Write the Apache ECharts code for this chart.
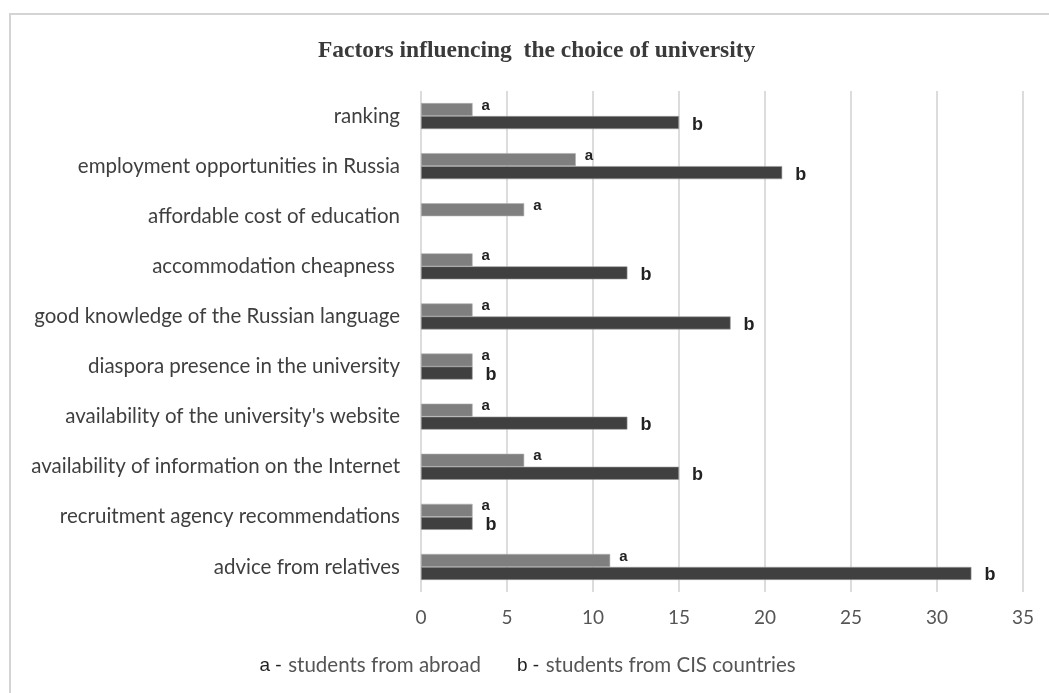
<!DOCTYPE html>
<html>
<head>
<meta charset="utf-8">
<script src="https://cdn.jsdelivr.net/npm/echarts@6/dist/echarts.min.js"></script>
<style>
  html, body { margin: 0; padding: 0; background: #ffffff; }
  #frame { position: absolute; left: 9px; top: 13px; width: 1040px; height: 680px;
           border-left: 2px solid #d4d4d4; border-top: 2px solid #d4d4d4; box-sizing: border-box; }
  #chart { width: 1049px; height: 693px; position: absolute; left: 0; top: 0; }
</style>
</head>
<body>
<div id="frame"></div>
<div id="chart"></div>
<script>
// Factors listed top to bottom
const factors = [
  'ranking',
  'employment opportunities in Russia',
  'affordable cost of education',
  'accommodation cheapness ',
  'good knowledge of the Russian language',
  'diaspora presence in the university',
  "availability of the university's website",
  'availability of information on the Internet',
  'recruitment agency recommendations',
  'advice from relatives'
];
// a - students from abroad
const abroad = [3, 9, 6, 3, 3, 3, 3, 6, 3, 11];
// b - students from CIS countries (no answer for affordable cost)
const cis = [15, 21, null, 12, 18, 3, 12, 15, 3, 32];
const valueTicks = [0, 5, 10, 15, 20, 25, 30, 35];

const labelFont = 'Liberation Sans, Arial, sans-serif';
const textFont = 'Lato, "Open Sans", sans-serif';

const chart = echarts.init(document.getElementById('chart'), null, { renderer: 'canvas' });
chart.setOption({
  animation: false,
  title: {
    text: 'Factors influencing  the choice of university',
    left: 313, top: 34,
    textStyle: { fontFamily: 'Liberation Serif, Times New Roman, serif', fontWeight: 'bold', fontSize: 23.5, color: '#3a3a3a' }
  },
  grid: { left: 421, right: 26, top: 91, bottom: 101, containLabel: false },
  xAxis: {
    type: 'value', min: valueTicks[0], max: valueTicks[valueTicks.length - 1], interval: 5,
    axisLine: { show: false }, axisTick: { show: false },
    splitLine: { show: true, lineStyle: { color: '#d0d0d0', width: 1.5 } },
    axisLabel: { fontFamily: textFont, fontSize: 19, color: '#555555', margin: 16 }
  },
  yAxis: {
    type: 'category', data: factors, inverse: true,
    axisLine: { show: false }, axisTick: { show: false }, splitLine: { show: false },
    axisLabel: { fontFamily: textFont, fontSize: 20.5, color: '#3f3f3f', margin: 21 }
  },
  legend: {
    bottom: 12, left: 'center', itemWidth: 0, itemHeight: 0, itemGap: 30,
    icon: 'rect', selectedMode: false,
    data: ['a', 'b'],
    formatter: function (name) {
      return '{k|' + name + ' -}  {t|' + (name === 'a' ? 'students from abroad' : 'students from CIS countries') + '}';
    },
    textStyle: {
      rich: {
        k: { fontFamily: labelFont, fontSize: 19, color: '#222222' },
        t: { fontFamily: textFont, fontSize: 20.5, color: '#555555' }
      }
    }
  },
  series: [
    {
      name: 'a', type: 'bar', data: abroad,
      barWidth: 13, barGap: '0%', barCategoryGap: '48%',
      itemStyle: { color: '#7f7f7f', borderColor: '#b0b0b0', borderWidth: 0.6 },
      label: {
        show: true, position: 'right', distance: 9, offset: [0, -4],
        formatter: function (p) { return p.value ? 'a' : ''; },
        fontFamily: labelFont, fontWeight: 'bold', fontSize: 15, color: '#222222'
      }
    },
    {
      name: 'b', type: 'bar', data: cis,
      barWidth: 13, barGap: '0%', barCategoryGap: '48%',
      itemStyle: { color: '#404040', borderColor: '#9a9a9a', borderWidth: 0.6 },
      label: {
        show: true, position: 'right', distance: 13, offset: [0, 2],
        formatter: function (p) { return p.value ? 'b' : ''; },
        fontFamily: labelFont, fontWeight: 'bold', fontSize: 18, color: '#222222'
      }
    }
  ]
});
</script>
</body>
</html>
